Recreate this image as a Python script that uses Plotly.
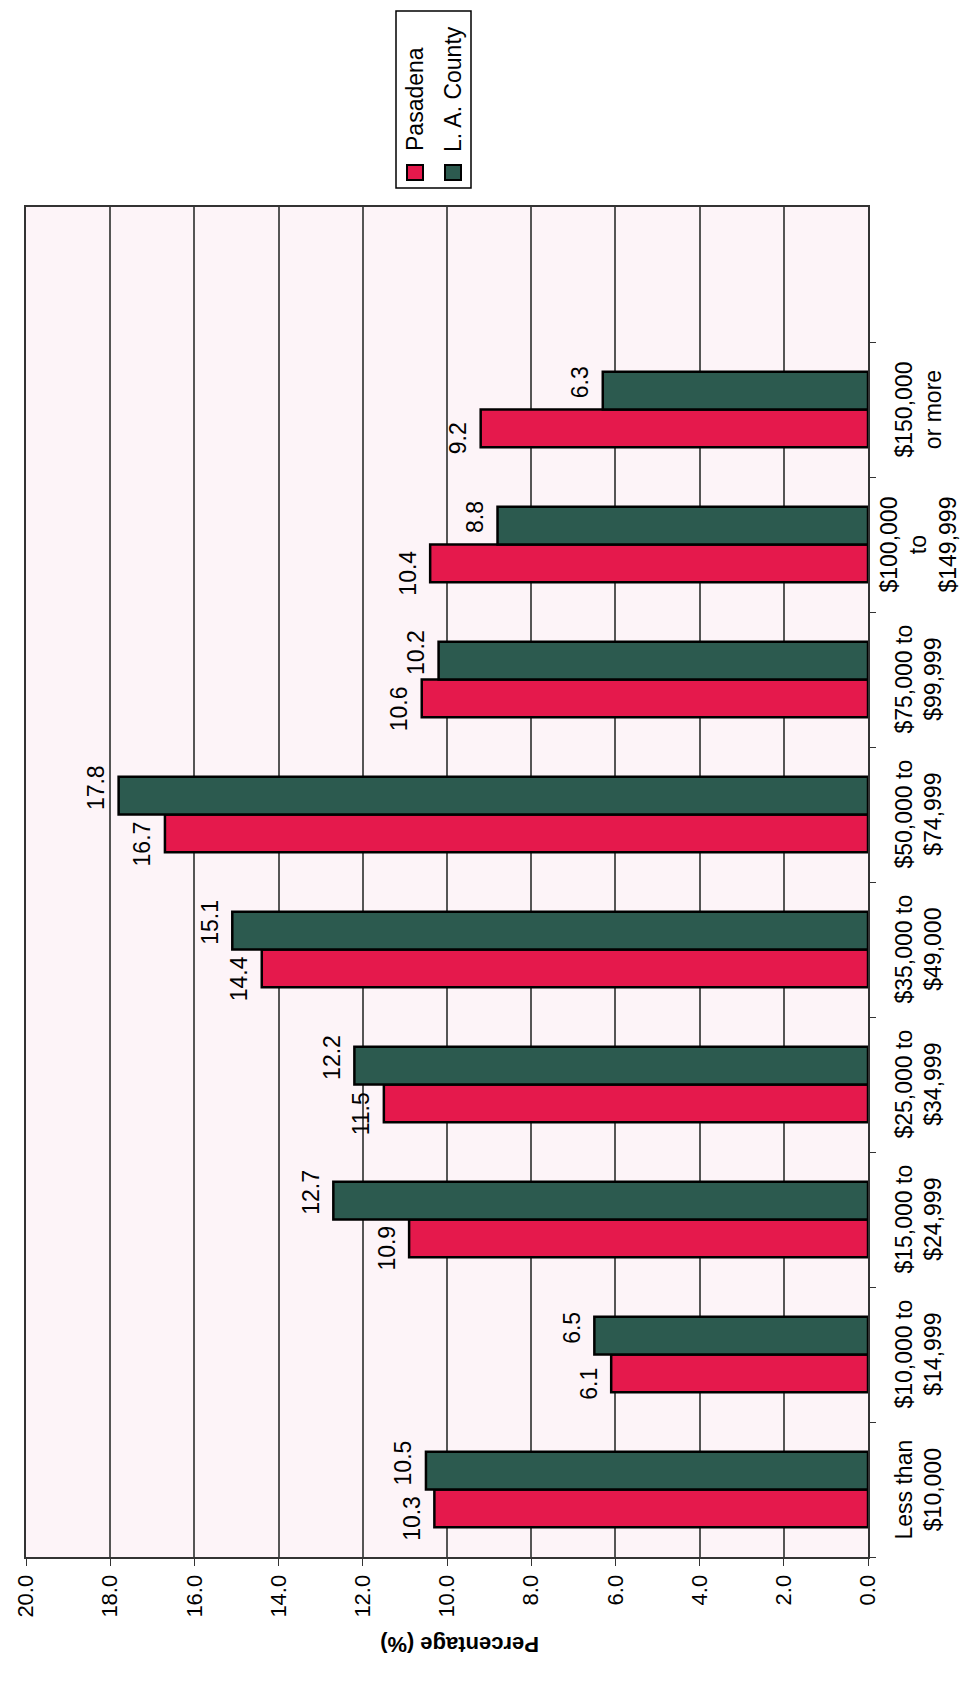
import plotly.graph_objects as go

categories = ["Less than<br>$10,000", "$10,000 to<br>$14,999", "$15,000 to<br>$24,999",
              "$25,000 to<br>$34,999", "$35,000 to<br>$49,000", "$50,000 to<br>$74,999",
              "$75,000 to<br>$99,999", "$100,000<br>to<br>$149,999", "$150,000<br>or more"]
pasadena = [10.3, 6.1, 10.9, 11.5, 14.4, 16.7, 10.6, 10.4, 9.2]
la_county = [10.5, 6.5, 12.7, 12.2, 15.1, 17.8, 10.2, 8.8, 6.3]
series_names = ["Pasadena", "L. A. County"]
value_ticks = [0, 2, 4, 6, 8, 10, 12, 14, 16, 18, 20]
axis_title = "Percentage (%)"

RED = "#E5194C"
GREEN = "#2C5A4F"
FONT = "Liberation Sans, Arial, sans-serif"

W, H = 969, 1688
L, R, T, B = 18, 109, 199, 139
PW, PH = W - L - R, H - T - B


def px_x(p):
    return (p - L) / PW


def px_y(p):
    return (H - B - p) / PH


fig = go.Figure()
annotations = []
for name, vals, col, ysh in [(series_names[0], pasadena, RED, -29),
                             (series_names[1], la_county, GREEN, 27)]:
    fig.add_trace(go.Bar(
        x=vals, y=categories, orientation="h", name=name,
        marker=dict(color=col, line=dict(color="black", width=2.5)),
    ))
    for c, v in zip(categories, vals):
        annotations.append(dict(
            x=v, xref="x", y=c, yref="y", text=f"{v:.1f}", showarrow=False,
            textangle=-90, xanchor="center", yanchor="middle",
            xshift=-23, yshift=ysh,
            font=dict(family=FONT, size=23, color="black"),
        ))

for c in categories:
    annotations.append(dict(
        x=px_x(910), xref="paper", y=c, yref="y", text=c, showarrow=False,
        textangle=-90, xanchor="center", yanchor="middle", align="center",
        font=dict(family=FONT, size=23, color="black"),
    ))

annotations.append(dict(
    x=px_x(452), xref="paper", y=px_y(1637), yref="paper", text=f"<b>{axis_title}</b>",
    showarrow=False, textangle=180, xanchor="center", yanchor="middle",
    font=dict(family=FONT, size=22, color="black"),
))

# legend (rotated, drawn manually)
shapes = [dict(type="rect", xref="paper", yref="paper",
               x0=px_x(388), x1=px_x(463), y0=px_y(180), y1=px_y(3),
               line=dict(color="black", width=1.5), fillcolor="white", layer="above")]
for name, col, sx, cx, ty in [(series_names[0], RED, 399, 407, 91),
                              (series_names[1], GREEN, 437, 445, 81)]:
    shapes.append(dict(type="rect", xref="paper", yref="paper",
                       x0=px_x(sx), x1=px_x(sx + 16), y0=px_y(172), y1=px_y(157),
                       line=dict(color="black", width=2), fillcolor=col, layer="above"))
    annotations.append(dict(x=px_x(cx), xref="paper", y=px_y(ty), yref="paper", text=name,
                            showarrow=False, textangle=-90, xanchor="center", yanchor="middle",
                            font=dict(family=FONT, size=23, color="black")))

fig.update_layout(
    width=W, height=H, autosize=False,
    margin=dict(l=L, r=R, t=T, b=B, pad=0, autoexpand=False),
    paper_bgcolor="white", plot_bgcolor="#FDF4F8",
    barmode="group", bargap=0.44, bargroupgap=0,
    showlegend=False,
    annotations=annotations, shapes=shapes,
    font=dict(family=FONT, size=22, color="black"),
)
fig.update_xaxes(
    range=[20, 0], tickvals=value_ticks, ticktext=[f"{v:.1f}" for v in value_ticks],
    tickangle=-90, ticks="outside", ticklen=7, tickcolor="#333", automargin=False,
    showgrid=True, gridcolor="#555555", gridwidth=1.5, zeroline=False,
    showline=True, mirror=True, linecolor="#333", linewidth=2,
    tickfont=dict(family=FONT, size=22, color="black"),
)
fig.update_yaxes(
    type="category", categoryorder="array", categoryarray=categories,
    range=[-0.5, 9.5], tickson="boundaries", ticks="outside", ticklen=6, tickcolor="#333",
    side="right", showticklabels=False, showgrid=False, zeroline=False, automargin=False,
    showline=True, mirror=True, linecolor="#333", linewidth=2,
)

fig.write_html("out.html")
